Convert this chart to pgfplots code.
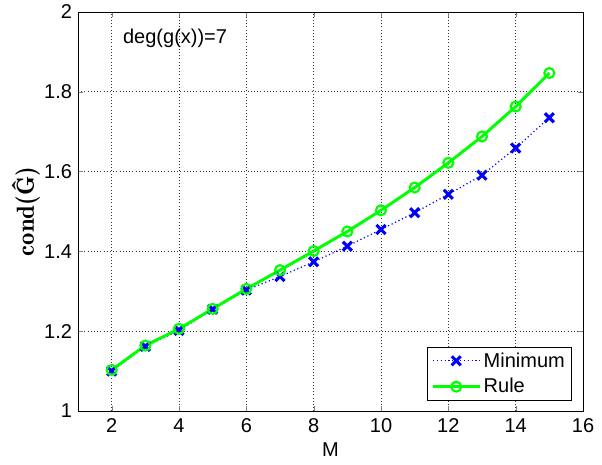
\documentclass[border=0pt]{standalone}
\usepackage{pgfplots}
\pgfplotsset{compat=1.18}
\usepackage{fontspec}
\setmainfont{Liberation Sans}
\usetikzlibrary{calc}
\definecolor{mblue}{rgb}{0,0,1}
\definecolor{mgreen}{rgb}{0,1,0}
\begin{document}
\begin{tikzpicture}
\begin{axis}[
  scale only axis,
  width=378.75pt, height=299.25pt,
  xmin=1, xmax=16, ymin=1, ymax=2,
  xtick={2,4,...,16},
  ytick={1,1.2,1.4,1.6,1.8,2},
  yticklabels={1,1.2,1.4,1.6,1.8,2},
  grid=major,
  major grid style={dotted, black!80, line width=0.5pt},
  tick align=inside,
  tick pos=both,
  major tick length=4pt,
  axis line style={line width=0.6pt},
  /pgf/number format/assume math mode=true,
  tick label style={font=\fontsize{15}{18}\selectfont},
  yticklabel style={xshift=-1pt},
  xticklabel style={yshift=-2pt},
  xlabel={M},
  xlabel style={font=\fontsize{15}{18}\selectfont, at={(axis description cs:0.5,-0.0977)}, anchor=center},
  ylabel={{\fontfamily{lmr}\selectfont\bfseries cond(\^G)}},
  ylabel style={font=\fontsize{18.5}{20}\selectfont, at={(axis description cs:-0.103,0.5)}, anchor=center},
  legend style={at={(axis description cs:0.978,0.026)}, anchor=south east,
    font=\fontsize{15}{18}\selectfont, draw=black, line width=0.6pt,
    inner xsep=3pt, inner ysep=2pt, row sep=3pt},
  legend cell align=left,
  legend image code/.code={
    \draw[#1] (0pt,0pt) -- (35pt,0pt);
    \draw[#1, mark repeat=2, mark phase=2] plot coordinates {(0pt,0pt) (17.5pt,0pt) (35pt,0pt)};
  },
]
\addplot[mblue, dotted, line width=0.9pt, mark=x, mark size=4.8pt,
  mark options={solid, line width=2.3pt}] coordinates {
  (2,1.100) (3,1.162) (4,1.202) (5,1.255) (6,1.303) (7,1.337) (8,1.374)
  (9,1.413) (10,1.455) (11,1.497) (12,1.543) (13,1.591) (14,1.659) (15,1.735)
};
\addlegendentry{Minimum}
\addplot[mgreen, solid, line width=2.2pt, mark=o, mark size=3.75pt,
  mark options={solid, line width=1.6pt}] coordinates {
  (2,1.103) (3,1.164) (4,1.206) (5,1.256) (6,1.306) (7,1.353) (8,1.401)
  (9,1.450) (10,1.503) (11,1.560) (12,1.622) (13,1.688) (14,1.763) (15,1.847)
};
\addlegendentry{Rule}
\node[anchor=west, font=\fontsize{15}{18}\selectfont] at (axis cs:2.2,1.935) {deg(g(x))=7};
\end{axis}
\pgfresetboundingbox
\path ($(current axis.south west)+(-58.5pt,-39.75pt)$) rectangle ($(current axis.north east)+(14.25pt,9pt)$);
\end{tikzpicture}
\end{document}
